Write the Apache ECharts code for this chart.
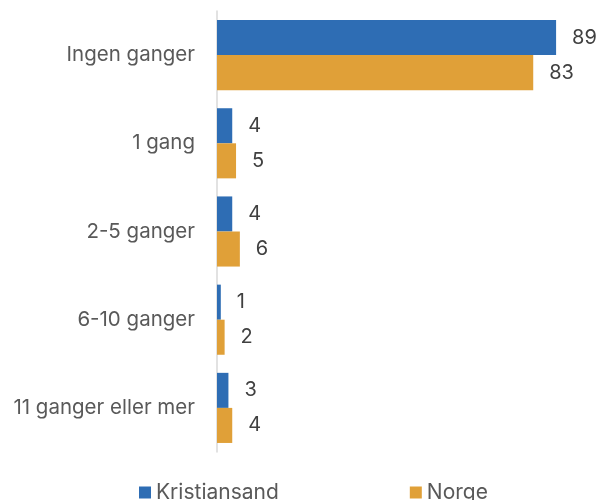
<!DOCTYPE html>
<html>
<head>
<meta charset="utf-8">
<script src="https://cdn.jsdelivr.net/npm/echarts@6/dist/echarts.min.js"></script>
<style>
  html, body { margin: 0; padding: 0; background: #fff; }
  #chart { width: 598px; height: 500px; }
</style>
</head>
<body>
<div id="chart"></div>
<script>
// Antall ganger – Kristiansand mot Norge (prosent)
const categories = ['Ingen ganger', '1 gang', '2-5 ganger', '6-10 ganger', '11 ganger eller mer'];
const kristiansand = [89, 4, 4, 1, 3];
const norge = [83, 5, 6, 2, 4];
const seriesNames = ['Kristiansand', 'Norge'];

const FONT = 'Inter, Roboto, sans-serif';

const chart = echarts.init(document.getElementById('chart'), null, { renderer: 'canvas' });

const valueLabel = {
  show: true,
  position: 'right',
  distance: 16,
  color: '#404040',
  fontSize: 20,
  fontFamily: FONT
};

chart.setOption({
  animation: false,
  grid: { left: 217, right: 0, top: 11, bottom: 48, containLabel: false },
  legend: {
    data: seriesNames,
    left: 134,
    top: 477,
    itemWidth: 12,
    itemHeight: 12,
    itemGap: 131,
    icon: 'rect',
    textStyle: { color: '#595959', fontSize: 21, fontFamily: FONT }
  },
  xAxis: {
    type: 'value',
    min: 0,
    max: 100,
    show: false
  },
  yAxis: {
    type: 'category',
    data: categories,
    inverse: true,
    axisLine: { show: true, lineStyle: { color: '#d9d9d9', width: 1.5 } },
    axisTick: { show: false },
    axisLabel: { color: '#595959', fontSize: 20.5, fontFamily: FONT, margin: 22 }
  },
  series: [
    {
      name: seriesNames[0],
      type: 'bar',
      data: kristiansand,
      barGap: '0%',
      barCategoryGap: '20.5%',
      itemStyle: { color: '#2E6DB4' },
      label: valueLabel
    },
    {
      name: seriesNames[1],
      type: 'bar',
      data: norge,
      itemStyle: { color: '#E0A038' },
      label: valueLabel
    }
  ]
});
</script>
</body>
</html>
